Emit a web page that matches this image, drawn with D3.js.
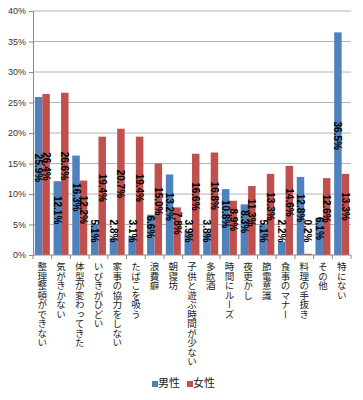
<!DOCTYPE html>
<html>
  <head>
    <meta charset="utf-8">
    <script src="https://cdn.jsdelivr.net/npm/d3@7"></script>
    <style>
      body { margin: 0; background: #fff; }
      svg { font-family: "Noto Sans CJK JP", sans-serif; }
      .axis .domain { stroke: #888; }
      .axis .tick line { stroke: #888; }
      .y .tick text { fill: #333; font-family: Arial, "Liberation Sans", sans-serif; font-size: 9px; }
      .grid line { stroke: #b4b4b4; }
      .val { font-family: Arial, "Liberation Sans", sans-serif; font-size: 10px; font-weight: bold; fill: #000; }
      .cat { font-size: 9.5px; fill: #222; writing-mode: vertical-rl; text-orientation: upright; }
    </style>
  </head>
  <body>
    <svg width="363" height="400"></svg>
    <script>
      var categories = ['整理整頓ができない', '気がきかない', '体型が変わってきた', 'いびきがひどい',
        '家事の協力をしない', 'たばこを吸う', '浪費癖', '朝寝坊', '子供と遊ぶ時間が少ない',
        '多飲酒', '時間にルーズ', '夜更かし', '節電意識', '食事のマナー', '料理の手抜き',
        'その他', '特にない'];
      var male   = [25.9, 12.1, 16.3, 5.1, 2.8, 3.1, 6.6, 13.2, 3.9, 3.8, 10.8, 8.3, 5.1, 2.2, 12.8, 6.1, 36.5];
      var female = [26.4, 26.6, 12.2, 19.4, 20.7, 19.4, 15.0, 7.8, 16.6, 16.8, 8.9, 11.3, 13.3, 14.6, 0.2, 12.6, 13.3];
      var seriesNames = ['男性', '女性'];
      var colors = ['#4F81BD', '#C0504D'];
      var yTicks = [0, 5, 10, 15, 20, 25, 30, 35, 40];

      var svg = d3.select('svg');
      var plot = { left: 33, right: 351, top: 11, bottom: 255 };

      var x0 = d3.scaleBand().domain(d3.range(categories.length)).range([plot.left, plot.right]).paddingInner(0.2).paddingOuter(0.1);
      var xc = d3.scaleBand().domain(d3.range(categories.length)).range([plot.left, plot.right]);
      var x1 = d3.scaleBand().domain([0, 1]).range([0, x0.bandwidth()]);
      var y = d3.scaleLinear().domain([0, 40]).range([plot.bottom, plot.top]);

      // gridlines
      svg.append('g').attr('class', 'grid')
        .selectAll('line').data(yTicks.slice(1)).enter().append('line')
          .attr('x1', plot.left).attr('x2', plot.right)
          .attr('y1', d => y(d)).attr('y2', d => y(d));

      var yAxis = d3.axisLeft(y).tickValues(yTicks).tickSize(4).tickFormat(d => d + '%');
      svg.append('g').attr('class', 'axis y')
        .attr('transform', `translate(${plot.left},0)`)
        .call(yAxis);

      var rows = categories.map((c, i) => ({ i: i, vals: [male[i], female[i]] }));

      var groups = svg.append('g').selectAll('g').data(rows).enter().append('g')
        .attr('transform', d => `translate(${x0(d.i)},0)`);

      groups.selectAll('rect').data(d => d.vals).enter().append('rect')
        .attr('x', (d, k) => x1(k))
        .attr('width', x1.bandwidth())
        .attr('y', d => y(d))
        .attr('height', d => plot.bottom - y(d))
        .attr('fill', (d, k) => colors[k]);

      groups.selectAll('text').data(d => d.vals).enter().append('text')
        .attr('class', 'val')
        .attr('text-anchor', 'middle')
        .attr('transform', (d, k) => {
          var cy = Math.min((y(d) + plot.bottom) / 2 - 8, plot.bottom - 24);
          var cx = x1(k) + x1.bandwidth() / 2;
          return `translate(${cx},${cy}) rotate(90)`;
        })
        .attr('dy', '0.35em')
        .text(d => d.toFixed(1) + '%');

      // x axis with ticks between categories
      svg.append('line')
        .attr('x1', plot.left).attr('x2', plot.right)
        .attr('y1', plot.bottom).attr('y2', plot.bottom)
        .attr('stroke', '#888');
      svg.append('g').selectAll('line').data(d3.range(categories.length + 1)).enter().append('line')
        .attr('x1', d => plot.left + d * xc.step()).attr('x2', d => plot.left + d * xc.step())
        .attr('y1', plot.bottom).attr('y2', plot.bottom + 4)
        .attr('stroke', '#888');

      svg.append('g').selectAll('text').data(categories).enter().append('text')
        .attr('class', 'cat')
        .attr('x', (d, i) => xc(i) + xc.bandwidth() / 2)
        .attr('y', plot.bottom + 7)
        .text(d => d);

      // legend
      var legend = svg.append('g').attr('transform', 'translate(152,384)');
      var li = legend.selectAll('g').data(seriesNames).enter().append('g')
        .attr('transform', (d, i) => `translate(${i * 35},0)`);
      li.append('rect').attr('x', 0).attr('y', -3).attr('width', 6).attr('height', 6)
        .attr('fill', (d, i) => colors[i]);
      li.append('text').attr('x', 6).attr('y', -1).attr('dy', '0.35em')
        .attr('font-size', 11).attr('fill', '#222').text(d => d);
    </script>
  </body>
</html>
